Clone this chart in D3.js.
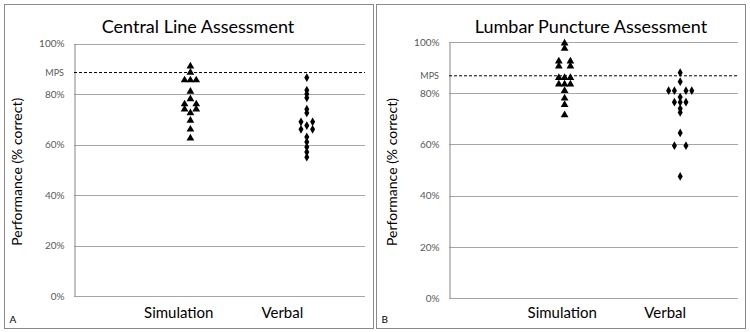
<!DOCTYPE html>
<html>
<head>
<meta charset="utf-8">
<script src="https://cdn.jsdelivr.net/npm/d3@7/dist/d3.min.js"></script>
<style>
  html, body { margin: 0; padding: 0; background: #fff; }
  svg { display: block; font-family: Lato, 'Open Sans', sans-serif; }
</style>
</head>
<body>
<svg id="chart" width="750" height="332"></svg>
<script>
const categories = ['Simulation', 'Verbal'];
const yTicks = [0, 20, 40, 60, 80, 100];
const titles = ['Central Line Assessment', 'Lumbar Puncture Assessment'];
const panelLetters = ['A', 'B'];
const mpsValues = [88.5, 86.8];

// values (% correct)
const centralSim = [91, 88.5, 85.5, 85.5, 85.5, 81, 78, 76, 76, 74, 74, 72.5, 69.5, 66, 62.5];
const centralVerbal = [86.5, 81.5, 80, 78.5, 74, 72.5, 69, 69, 67.5, 66, 66, 63, 61, 59, 57, 55];
const lumbarSim = [99.5, 97.5, 92.5, 92.5, 90.5, 90.5, 86, 86, 86, 83.5, 83.5, 83.5, 81, 78, 75.5, 71.5];
const lumbarVerbal = [88, 84.5, 81, 81, 81, 81, 78.5, 76.5, 76.5, 76.5, 74, 72.5, 64.5, 59.5, 59.5, 47.5];

const svg = d3.select('#chart');

// layout of each panel
const panels = [
  { box: [4.5, 4.5, 369, 324], plot: [74, 43.5, 365, 296], title: [198, 33], yTitle: 22,
    labelX: [0.9, 1.79], series: [centralSim, centralVerbal] },
  { box: [376.5, 4.5, 369, 324], plot: [449, 42, 738, 298], title: [591, 33], yTitle: 397,
    labelX: [0.98, 1.87], series: [lumbarSim, lumbarVerbal] }
];

// spread equal values sideways like the original
function spread(values) {
  const counts = d3.rollup(values, v => v.length, v => v);
  const seen = new Map();
  return values.map(v => {
    const n = counts.get(v);
    const i = seen.get(v) || 0;
    seen.set(v, i + 1);
    let off;
    if (n % 2) {
      off = i - (n - 1) / 2;
    } else {
      off = i - n / 2;
      if (off >= 0) off += 1;
    }
    return { value: v, off };
  });
}

panels.forEach((p, k) => {
  const g = svg.append('g');
  const [x0, y0, x1, y1] = p.plot;

  g.append('rect')
    .attr('x', p.box[0]).attr('y', p.box[1])
    .attr('width', p.box[2]).attr('height', p.box[3])
    .attr('fill', 'none').attr('stroke', '#8a8a8a').attr('stroke-width', 1);

  const x = d3.scaleLinear().domain([0, 2.5]).range([x0, x1]);
  const y = d3.scaleLinear().domain([0, 100]).range([y1, y0]);

  // grid lines
  g.append('g').selectAll('line')
    .data(yTicks)
    .enter()
    .append('line')
    .attr('x1', x0).attr('x2', x1)
    .attr('y1', d => Math.round(y(d)) + 0.5).attr('y2', d => Math.round(y(d)) + 0.5)
    .attr('stroke', '#a6a6a6').attr('stroke-width', 1);

  // y axis
  const yAxis = d3.axisLeft(y)
    .tickValues(yTicks)
    .tickFormat(d => d + '%')
    .tickSize(0)
    .tickPadding(10);
  const ax = g.append('g')
    .attr('transform', `translate(${x0 + 0.5},0)`)
    .call(yAxis);
  ax.select('.domain').attr('stroke', '#868686');
  ax.selectAll('text')
    .attr('font-size', 10)
    .attr('font-family', "Lato, 'Open Sans', sans-serif")
    .attr('fill', '#595959');

  // MPS
  g.append('line')
    .attr('x1', x0).attr('x2', x1)
    .attr('y1', y(mpsValues[k])).attr('y2', y(mpsValues[k]))
    .attr('stroke', '#000').attr('stroke-width', 1)
    .attr('stroke-dasharray', '3,2');
  g.append('text')
    .attr('x', x0 - 10).attr('y', y(mpsValues[k]) + 3)
    .attr('text-anchor', 'end')
    .attr('font-size', 9)
    .attr('fill', '#595959')
    .text('MPS');

  // points
  const shapes = [d3.symbolTriangle, d3.symbolDiamond];
  const sizes = [26, 22];
  p.series.forEach((s, j) => {
    g.append('g').selectAll('path')
      .data(spread(s))
      .enter()
      .append('path')
      .attr('d', d3.symbol().type(shapes[j]).size(sizes[j]))
      .attr('transform', d => `translate(${x(j + 1 + d.off * 0.05)},${y(d.value)})`)
      .attr('fill', '#000');
  });

  // titles
  g.append('text')
    .attr('x', p.title[0]).attr('y', p.title[1])
    .attr('text-anchor', 'middle')
    .attr('font-size', 18)
    .attr('fill', '#000')
    .text(titles[k]);

  g.append('text')
    .attr('transform', `translate(${p.yTitle},${(y0 + y1) / 2 + 2}) rotate(-90)`)
    .attr('text-anchor', 'middle')
    .attr('font-size', 14)
    .attr('fill', '#000')
    .text('Performance (% correct)');

  g.selectAll('.cat')
    .data(categories)
    .enter()
    .append('text')
    .attr('x', (d, i) => x(p.labelX[i]))
    .attr('y', 318)
    .attr('text-anchor', 'middle')
    .attr('font-size', 15)
    .attr('fill', '#000')
    .text(d => d);

  g.append('text')
    .attr('x', p.box[0] + 5).attr('y', 323)
    .attr('font-size', 10)
    .attr('fill', '#000')
    .text(panelLetters[k]);
});
</script>
</body>
</html>
